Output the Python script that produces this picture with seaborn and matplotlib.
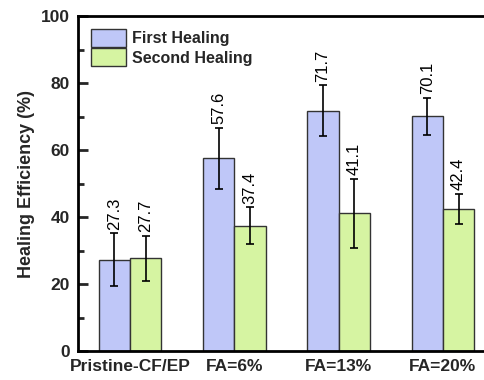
import matplotlib
matplotlib.use("Agg")
import matplotlib.pyplot as plt
import seaborn as sns
import pandas as pd
import numpy as np
from matplotlib.ticker import MultipleLocator

categories = ["Pristine-CF/EP", "FA=6%", "FA=13%", "FA=20%"]
series_names = ["First Healing", "Second Healing"]
first_vals = [27.3, 57.6, 71.7, 70.1]
second_vals = [27.7, 37.4, 41.1, 42.4]
first_err = [7.8, 9.1, 7.6, 5.5]
second_err = [6.7, 5.5, 10.3, 4.6]
colors = ["#BFC7F8", "#D6F4A2"]

sns.set_style("ticks")
plt.rcParams['font.family'] = ['Liberation Sans', 'DejaVu Sans']

df = pd.DataFrame({
    "cat": categories * 2,
    "series": [series_names[0]] * 4 + [series_names[1]] * 4,
    "val": first_vals + second_vals,
})

fig = plt.figure(figsize=(4.85, 3.8), dpi=100)
ax = fig.add_axes([78/485, 29/380, (495-78)/485, (351-16)/380])

sns.barplot(data=df, x="cat", y="val", hue="series", palette=colors,
            width=0.6, edgecolor="#333333", linewidth=1.0, errorbar=None,
            ax=ax, saturation=1)

# error bars and value labels
vals_all = [first_vals, second_vals]
errs_all = [first_err, second_err]
bar_containers = list(ax.containers)
for si, cont in enumerate(bar_containers):
    for bi, patch in enumerate(cont.patches):
        xc = patch.get_x() + patch.get_width() / 2
        v = vals_all[si][bi]
        e = errs_all[si][bi]
        ax.errorbar(xc, v, yerr=e, color="black", capsize=3, elinewidth=1.2,
                    capthick=1.2, fmt="none")
        ax.annotate(f"{v:.1f}", (xc, v + e), xytext=(0, 2.5), textcoords="offset points",
                    rotation=90, ha="center", va="bottom", fontsize=12, color="black")

ax.set_xlim(-0.5, 3.5)
ax.set_ylim(0, 100)
ax.yaxis.set_major_locator(MultipleLocator(20))
ax.yaxis.set_minor_locator(MultipleLocator(10))
ax.set_xlabel("")
ax.set_ylabel("Healing Efficiency (%)", fontsize=13, fontweight="bold", labelpad=4)

for s in ax.spines.values():
    s.set_linewidth(2)
    s.set_color("black")
ax.spines["right"].set_visible(False)

ax.tick_params(axis="y", which="major", direction="in", length=7, width=2, pad=6,
               labelsize=12.5)
ax.tick_params(axis="y", which="minor", direction="in", length=4, width=2)
ax.tick_params(axis="x", which="major", direction="in", length=5, width=3, pad=6,
               labelsize=12.5)
for lab in ax.get_xticklabels() + ax.get_yticklabels():
    lab.set_fontweight("bold")

leg = ax.legend(loc="upper left", bbox_to_anchor=(0.0, 1.0), frameon=False,
                prop={"weight": "bold", "size": 11.5},
                handlelength=2.2, handleheight=1.4, handletextpad=0.35,
                labelspacing=0.05, borderaxespad=0.5, borderpad=0.3)

fig.savefig("out.png", dpi=100)
